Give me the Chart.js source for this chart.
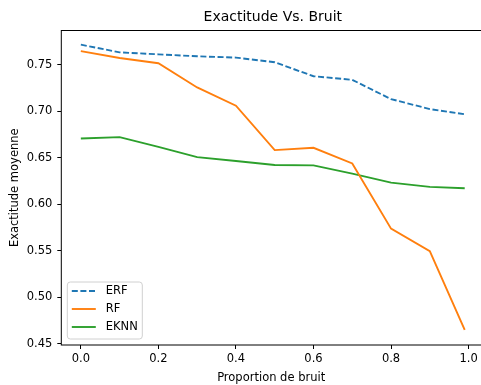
<!DOCTYPE html>
<html>
<head>
<meta charset="utf-8">
<script src="https://cdn.jsdelivr.net/npm/chart.js@4.4.1/dist/chart.umd.min.js"></script>
<style>
    html, body { margin: 0; padding: 0; background: #fff; }
    canvas { display: block; }
</style>
</head>
<body>
<canvas id="noiseChart" width="481" height="385"></canvas>
<script>
// values
const noiseLevels = [0.0, 0.1, 0.2, 0.3, 0.4, 0.5, 0.6, 0.7, 0.8, 0.9, 0.99];
const erfAccuracy = [0.7714, 0.7631, 0.7610, 0.7589, 0.7575, 0.7525, 0.7375, 0.7336, 0.7129, 0.7022, 0.6966];
const rfAccuracy = [0.7645, 0.7570, 0.7514, 0.7254, 0.7058, 0.6581, 0.6606, 0.6438, 0.5737, 0.5495, 0.4650];
const eknnAccuracy = [0.6705, 0.6720, 0.6616, 0.6506, 0.6464, 0.6421, 0.6417, 0.6328, 0.6232, 0.6186, 0.6171];
const seriesNames = ['ERF', 'RF', 'EKNN'];
const xTicks = [0.0, 0.2, 0.4, 0.6, 0.8, 1.0];
const yTicks = [0.45, 0.50, 0.55, 0.60, 0.65, 0.70, 0.75];

const FONT = 'DejaVu Sans';
const TEXT = '#000';
const LINE_W = 1.9;

const toPoints = (ys) => ys.map((y, i) => ({ x: noiseLevels[i], y: y }));

// frame on all four sides, like matplotlib spines
const framePlugin = {
    id: 'frame',
    afterDatasetsDraw(chart) {
        const a = chart.chartArea;
        const ctx = chart.ctx;
        ctx.save();
        ctx.strokeStyle = '#000';
        ctx.lineWidth = 1;
        ctx.strokeRect(a.left, a.top, chart.width + 5 - a.left, a.bottom - a.top);
        ctx.restore();
    }
};

// title centred over the full (clipped) axes
const titlePlugin = {
    id: 'axesTitle',
    afterDraw(chart) {
        const x = chart.scales.x;
        const ctx = chart.ctx;
        ctx.save();
        ctx.font = '14px "' + FONT + '"';
        ctx.fillStyle = TEXT;
        ctx.textAlign = 'center';
        ctx.textBaseline = 'middle';
        ctx.fillText('Exactitude Vs. Bruit', x.getPixelForValue(0.495), 17);
        ctx.restore();
    }
};

// legend inside the axes, lower left
const legendPlugin = {
    id: 'boxLegend',
    afterDraw(chart) {
        const a = chart.chartArea;
        const ctx = chart.ctx;
        const w = 75, h = 57;
        const left = a.left + 6, top = a.bottom - 6 - h;
        ctx.save();
        ctx.beginPath();
        ctx.roundRect(left, top, w, h, 3);
        ctx.fillStyle = 'rgba(255,255,255,0.8)';
        ctx.fill();
        ctx.strokeStyle = '#d0d0d0';
        ctx.lineWidth = 1;
        ctx.stroke();
        ctx.font = '11.5px "' + FONT + '"';
        ctx.textBaseline = 'middle';
        chart.data.datasets.forEach((ds, i) => {
            const y = top + 9 + i * 18;
            ctx.beginPath();
            ctx.setLineDash(ds.borderDash || []);
            ctx.strokeStyle = ds.borderColor;
            ctx.lineWidth = LINE_W;
            ctx.moveTo(left + 4.5, y);
            ctx.lineTo(left + 28.5, y);
            ctx.stroke();
            ctx.setLineDash([]);
            ctx.fillStyle = TEXT;
            ctx.fillText(ds.label, left + 38.5, y);
        });
        ctx.restore();
    }
};

const ctx = document.getElementById('noiseChart').getContext('2d');
new Chart(ctx, {
    type: 'line',
    data: {
        datasets: [
            { label: seriesNames[0], data: toPoints(erfAccuracy), borderColor: '#1f77b4', borderDash: [6, 2.6] },
            { label: seriesNames[1], data: toPoints(rfAccuracy), borderColor: '#ff7f0e' },
            { label: seriesNames[2], data: toPoints(eknnAccuracy), borderColor: '#2ca02c' }
        ]
    },
    options: {
        responsive: false,
        devicePixelRatio: 1,
        animation: false,
        layout: { padding: { top: 30.5, left: 0, right: 0, bottom: 0 } },
        elements: {
            line: { borderWidth: LINE_W, tension: 0, fill: false },
            point: { radius: 0 }
        },
        plugins: {
            legend: { display: false },
            title: { display: false },
            tooltip: { enabled: false }
        },
        scales: {
            x: {
                type: 'linear',
                min: -0.0504,
                max: 1.032,
                afterBuildTicks: (s) => { s.ticks = xTicks.map(v => ({ value: v })); },
                afterFit: (s) => { s.height = 40; },
                grid: { drawOnChartArea: false, drawTicks: true, tickLength: 4, color: '#000' },
                border: { display: false },
                ticks: {
                    padding: 3,
                    color: TEXT,
                    font: { family: FONT, size: 11.5 },
                    maxRotation: 0,
                    autoSkip: false,
                    callback: (v) => Number(v).toFixed(1)
                },
                title: {
                    display: true,
                    text: 'Proportion de bruit',
                    color: TEXT,
                    font: { family: FONT, size: 11.5 },
                    padding: { top: 3, bottom: 0 }
                }
            },
            y: {
                type: 'linear',
                min: 0.4487,
                max: 0.7866,
                afterBuildTicks: (s) => { s.ticks = yTicks.map(v => ({ value: v })); },
                afterFit: (s) => { s.width = 61.3; },
                grid: { drawOnChartArea: false, drawTicks: true, tickLength: 4, color: '#000' },
                border: { display: false },
                ticks: {
                    padding: 5,
                    color: TEXT,
                    font: { family: FONT, size: 11.5 },
                    autoSkip: false,
                    callback: (v) => Number(v).toFixed(2)
                },
                title: {
                    display: true,
                    text: 'Exactitude moyenne',
                    color: TEXT,
                    font: { family: FONT, size: 11.5 },
                    padding: { top: 8, bottom: 0 }
                }
            }
        }
    },
    plugins: [framePlugin, titlePlugin, legendPlugin]
});
</script>
</body>
</html>
